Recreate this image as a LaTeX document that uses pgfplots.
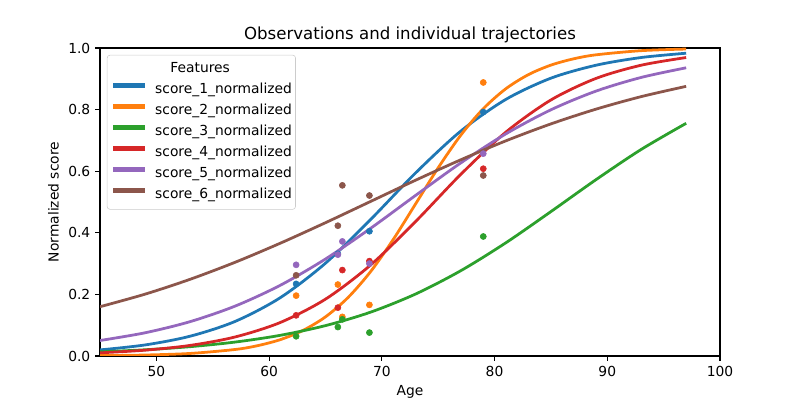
\documentclass[border=0pt]{standalone}
\usepackage{fontspec}
\setmainfont{DejaVu Sans}
\usepackage{pgfplots}
\pgfplotsset{compat=1.18}

\definecolor{c0}{RGB}{31,119,180}
\definecolor{c1}{RGB}{255,127,14}
\definecolor{c2}{RGB}{44,160,44}
\definecolor{c3}{RGB}{214,39,40}
\definecolor{c4}{RGB}{148,103,189}
\definecolor{c5}{RGB}{140,86,75}

\begin{document}
\begin{tikzpicture}
\begin{axis}[
  scale only axis,
  width=448.07pt, height=222.6pt,
  at={(0,0)}, anchor=south west,
  xmin=45, xmax=100, ymin=0, ymax=1,
  xtick={50,60,70,80,90,100},
  ytick={0,0.2,0.4,0.6,0.8,1},
  yticklabel style={/pgf/number format/.cd, fixed, fixed zerofill, precision=1},
  /pgf/number format/assume math mode=true,
  tick align=outside,
  major tick length=3.5pt,
  tick style={black, line width=0.8pt},
  axis line style={line width=0.8pt},
  xtick pos=bottom, ytick pos=left,
  ticklabel style={font=\fontsize{10}{12}\selectfont},
  title={Observations and individual trajectories},
  title style={font=\fontsize{12}{14}\selectfont, anchor=base, inner sep=0pt},
  xlabel={Age},
  ylabel={Normalized score},
  label style={font=\fontsize{10}{12}\selectfont},
  legend cell align=left,
  legend style={
    at={(0,1)}, anchor=north west, xshift=5pt, yshift=-5pt,
    font=\fontsize{10}{12}\selectfont,
    draw=black!20, fill=white, fill opacity=0.8, text opacity=1,
    rounded corners=2pt,
    inner xsep=2.6pt, inner ysep=2.5pt,
    row sep=0pt, column sep=5.8pt,
    nodes={inner sep=0pt, text height=9.8pt, text depth=5.4pt},
  },
  legend image code/.code={\draw[#1] (0pt,3.5pt) -- (23pt,3.5pt);},
]

% observed scores per feature
\addplot[only marks, mark=*, mark size=2.2pt, c0, mark options={draw=none, fill=c0}, forget plot]
  coordinates {(62.4,0.234) (66.1,0.332) (68.9,0.405) (79.0,0.792)};
\addplot[only marks, mark=*, mark size=2.2pt, c1, mark options={draw=none, fill=c1}, forget plot]
  coordinates {(62.4,0.196) (66.1,0.232) (66.5,0.127) (68.9,0.166) (79.0,0.888)};
\addplot[only marks, mark=*, mark size=2.2pt, c2, mark options={draw=none, fill=c2}, forget plot]
  coordinates {(62.4,0.064) (66.1,0.094) (66.5,0.119) (68.9,0.076) (79.0,0.388)};
\addplot[only marks, mark=*, mark size=2.2pt, c3, mark options={draw=none, fill=c3}, forget plot]
  coordinates {(62.4,0.132) (66.1,0.157) (66.5,0.279) (68.9,0.308) (79.0,0.608)};
\addplot[only marks, mark=*, mark size=2.2pt, c4, mark options={draw=none, fill=c4}, forget plot]
  coordinates {(62.4,0.296) (66.1,0.329) (66.5,0.372) (68.9,0.300) (79.0,0.657)};
\addplot[only marks, mark=*, mark size=2.2pt, c5, mark options={draw=none, fill=c5}, forget plot]
  coordinates {(62.4,0.262) (66.1,0.423) (66.5,0.554) (68.9,0.521) (79.0,0.586)};

% fitted trajectories
\addplot[c0, line width=2pt, smooth, forget plot] coordinates {
  (45,0.0198) (49,0.0359) (53,0.0643) (57,0.1125) (61,0.1895) (65,0.3012) (69,0.4429)
  (73,0.5945) (77,0.730) (81,0.833) (85,0.902) (89,0.944) (93,0.969) (97,0.983)};
\addplot[c1, line width=2pt, smooth, forget plot] coordinates {
  (45,0.0012) (49,0.0032) (53,0.0083) (57,0.0212) (59,0.0337) (61,0.0532) (63,0.0829) (65,0.127)
  (67,0.1897) (69,0.2737) (71,0.3775) (73,0.494) (75,0.611) (77,0.7167) (79,0.8028)
  (81,0.8676) (83,0.9134) (85,0.9444) (87,0.9647) (89,0.9778) (93,0.9913) (97,0.9966)};
\addplot[c2, line width=2pt, smooth, forget plot] coordinates {
  (45,0.0134) (49,0.0202) (53,0.0303) (57,0.0453) (61,0.0672) (65,0.0986) (69,0.1423)
  (73,0.2013) (77,0.2768) (81,0.3675) (85,0.4688) (89,0.5725) (93,0.6704) (97,0.7555)};
\addplot[c3, line width=2pt, smooth, forget plot] coordinates {
  (45,0.0103) (49,0.0189) (53,0.0344) (57,0.0619) (61,0.1089) (65,0.1845) (69,0.2952)
  (73,0.4368) (77,0.5895) (81,0.7267) (85,0.8312) (89,0.9012) (93,0.944) (97,0.969)};
\addplot[c4, line width=2pt, smooth, forget plot] coordinates {
  (45,0.0503) (49,0.0754) (53,0.1116) (57,0.1622) (61,0.2297) (65,0.3148) (69,0.4144)
  (73,0.5215) (77,0.6267) (81,0.7211) (85,0.7993) (89,0.860) (93,0.9043) (97,0.9357)};
\addplot[c5, line width=2pt, smooth, forget plot] coordinates {
  (45,0.160) (49,0.2008) (53,0.2491) (57,0.3045) (61,0.3663) (65,0.4327) (69,0.5017)
  (73,0.5708) (77,0.6369) (81,0.6985) (85,0.7535) (89,0.8014) (93,0.842) (97,0.8755)};

\addlegendimage{empty legend}\addlegendentry{\hspace{11pt}Features}
\addlegendimage{c0, line width=3.3pt}\addlegendentry{score\_1\_normalized}
\addlegendimage{c1, line width=3.3pt}\addlegendentry{score\_2\_normalized}
\addlegendimage{c2, line width=3.3pt}\addlegendentry{score\_3\_normalized}
\addlegendimage{c3, line width=3.3pt}\addlegendentry{score\_4\_normalized}
\addlegendimage{c4, line width=3.3pt}\addlegendentry{score\_5\_normalized}
\addlegendimage{c5, line width=3.3pt}\addlegendentry{score\_6\_normalized}
\end{axis}
\pgfresetboundingbox
\path (-72.27pt,-31.8pt) rectangle (505.89pt,257.28pt);
\end{tikzpicture}
\end{document}
